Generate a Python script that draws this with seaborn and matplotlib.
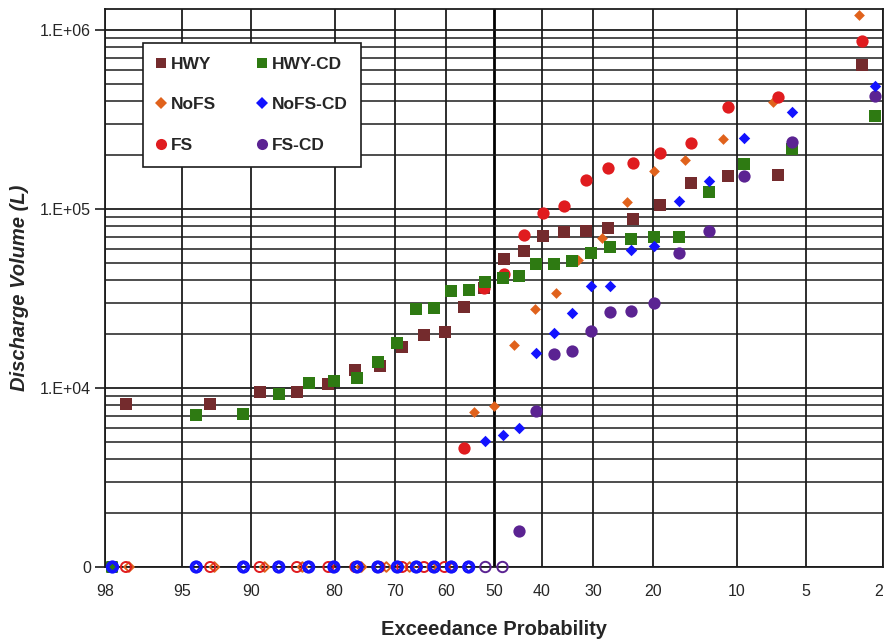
import math
import numpy as np
import matplotlib
matplotlib.use("Agg")
import matplotlib.pyplot as plt
import seaborn as sns
from matplotlib.lines import Line2D
from matplotlib.ticker import LogLocator, NullFormatter, NullLocator

# exceedance probability (%) of the ranked events
exc_24 = [97.4, 93.3, 89.2, 85.1, 80.9, 76.8, 72.7, 68.6, 64.4, 60.3, 56.2, 52.1,
          47.9, 43.8, 39.7, 35.6, 31.4, 27.3, 23.2, 19.1, 14.9, 10.8, 6.7, 2.6]
exc_23 = [97.3, 93.0, 88.7, 84.4, 80.1, 75.8, 71.5, 67.2, 62.9, 58.6, 54.3, 50.0,
          45.7, 41.4, 37.1, 32.8, 28.5, 24.2, 19.9, 15.6, 11.3, 7.0, 2.7]
exc_28 = [97.8, 94.2, 90.7, 87.2, 83.6, 80.1, 76.5, 73.0, 69.5, 65.9, 62.4, 58.9, 55.3, 51.8,
          48.2, 44.7, 41.2, 37.6, 34.1, 30.5, 27.0, 23.5, 19.9, 16.4, 12.8, 9.3, 5.8, 2.2]

# discharge volume (L) per event, 0 = no discharge
hwy = [8100, 8100, 9500, 9500, 10500, 12600, 13300, 16900, 19700, 20500, 28500, 36000,
       52700, 58400, 70800, 74500, 75500, 78400, 88000, 105000, 139000, 152000, 154000, 640000]
nofs = [0, 0, 0, 0, 0, 0, 0, 0, 0, 0, 7300, 7900, 17400, 27800, 34100, 51600, 69000,
        109000, 163000, 188000, 245000, 396000, 1210000]
fs = [0, 0, 0, 0, 0, 0, 0, 0, 0, 0, 4600, 36400, 43500, 71700, 94400, 104500, 146000,
      169000, 181000, 206000, 233000, 369000, 425000, 869000]
hwy_cd = [0, 7050, 7170, 9260, 10600, 10900, 11400, 13900, 17900, 27500, 28100, 34900, 35200,
          39000, 41400, 42000, 49100, 49100, 51000, 57000, 61400, 68100, 69600, 69600,
          125000, 179000, 217000, 330000]
nofs_cd = [0, 0, 0, 0, 0, 0, 0, 0, 0, 0, 0, 0, 0, 5060, 5430, 5990, 15600, 20400, 26200,
           37000, 37200, 58700, 62500, 111000, 143000, 250000, 349000, 489000]
fs_cd = [0, 0, 0, 0, 0, 0, 0, 0, 0, 0, 0, 0, 0, 0, 0, 1580, 7430, 15500, 16100, 20900,
         26500, 26800, 29900, 56700, 75200, 152000, 237000, 430000]

prob_ticks = [98, 95, 90, 80, 70, 60, 50, 40, 30, 20, 10, 5, 2]
vol_ticks = [1e3, 1e4, 1e5, 1e6]
vol_labels = ["0", "1.E+04", "1.E+05", "1.E+06"]
y_floor = 1e3  # zero volumes sit on the "0" line

# name, exceedance, volume, colour, marker, size, zero-row size, filled zero
series = [
    ("HWY", exc_24, hwy, "#742B2D", "s", 64, 40, True),
    ("NoFS", exc_23, nofs, "#E0621C", "D", 30, 24, False),
    ("FS", exc_24, fs, "#E01C1F", "o", 78, 52, False),
    ("HWY-CD", exc_28, hwy_cd, "#2E7A12", "s", 64, 60, True),
    ("FS-CD", exc_28, fs_cd, "#5B2392", "o", 78, 56, False),
    ("NoFS-CD", exc_28, nofs_cd, "#1212FF", "D", 34, 22, False),
]
legend_order = ["HWY", "NoFS", "FS", "HWY-CD", "NoFS-CD", "FS-CD"]


# inverse normal cdf (Acklam) for the probability axis
A = [-3.969683028665376e+01, 2.209460984245205e+02, -2.759285104469687e+02,
     1.383577518672690e+02, -3.066479806614716e+01, 2.506628277459239e+00]
B = [-5.447609879822406e+01, 1.615858368580409e+02, -1.556989798598866e+02,
     6.680131188771972e+01, -1.328068155288572e+01]
C = [-7.784894002430293e-03, -3.223964580411365e-01, -2.400758277161838e+00,
     -2.549732539343734e+00, 4.374664141464968e+00, 2.938163982698783e+00]
D = [7.784695709041462e-03, 3.224671290700398e-01, 2.445134137142996e+00,
     3.754408661907416e+00]


def _ppf(p):
    p = min(max(p, 1e-9), 1 - 1e-9)
    if p < 0.02425:
        q = math.sqrt(-2 * math.log(p))
        return (((((C[0]*q + C[1])*q + C[2])*q + C[3])*q + C[4])*q + C[5]) / \
               ((((D[0]*q + D[1])*q + D[2])*q + D[3])*q + 1)
    if p > 1 - 0.02425:
        q = math.sqrt(-2 * math.log(1 - p))
        return -(((((C[0]*q + C[1])*q + C[2])*q + C[3])*q + C[4])*q + C[5]) / \
                ((((D[0]*q + D[1])*q + D[2])*q + D[3])*q + 1)
    q = p - 0.5
    r = q * q
    return (((((A[0]*r + A[1])*r + A[2])*r + A[3])*r + A[4])*r + A[5])*q / \
           (((((B[0]*r + B[1])*r + B[2])*r + B[3])*r + B[4])*r + 1)


_ppf_v = np.vectorize(_ppf, otypes=[float])
_erfc_v = np.vectorize(math.erfc, otypes=[float])


def exc_to_z(p):
    return _ppf_v(np.asarray(p, dtype=float) / 100.0)


def z_to_exc(z):
    return 100.0 * 0.5 * _erfc_v(-np.asarray(z, dtype=float) / math.sqrt(2))


sns.set_style("white")
plt.rcParams["font.family"] = ["Liberation Sans", "DejaVu Sans"]

fig = plt.figure(figsize=(8.85, 6.43), dpi=100)
ax = fig.add_axes([0.1186, 0.1182, 0.8791, 0.8678])

handles = {}
for name, exc, vol, color, marker, size, zsize, zfill in series:
    exc = np.asarray(exc, dtype=float)
    vol = np.asarray(vol, dtype=float)
    wet = vol > 0
    sns.scatterplot(x=exc[wet], y=vol[wet], ax=ax, color=color, marker=marker,
                    s=size, linewidth=0, zorder=3)
    if (~wet).any():
        sns.scatterplot(x=exc[~wet], y=np.full((~wet).sum(), y_floor), ax=ax,
                        color=color, marker=marker, s=zsize, zorder=4, clip_on=False)
        coll = ax.collections[-1]
        coll.set_edgecolor(color)
        coll.set_linewidth(1.4)
        if not zfill:
            coll.set_facecolor("none")
        if name == "NoFS-CD":
            # dry events also ringed in blue
            sns.scatterplot(x=exc[~wet], y=np.full((~wet).sum(), y_floor), ax=ax,
                            color=color, marker="o", s=62, zorder=4, clip_on=False)
            ring = ax.collections[-1]
            ring.set_facecolor("none")
            ring.set_edgecolor(color)
            ring.set_linewidth(1.6)
    handles[name] = Line2D([], [], linestyle="none", marker=marker, color=color,
                           markersize={"s": 7, "o": 8, "D": 6}[marker],
                           markeredgewidth=0)

ax.set_xscale("function", functions=(exc_to_z, z_to_exc))
ax.set_yscale("log")
ax.set_xlim(98, 2)
ax.set_ylim(y_floor, 1.31e6)

ax.set_xticks(prob_ticks, [str(t) for t in prob_ticks])
ax.xaxis.set_minor_locator(NullLocator())
ax.get_xticklabels()[-1].set_horizontalalignment("right")
ax.set_yticks(vol_ticks, vol_labels)
ax.yaxis.set_minor_locator(LogLocator(base=10, subs=np.arange(2, 10)))
ax.yaxis.set_minor_formatter(NullFormatter())

ax.set_axisbelow(True)
ax.grid(which="major", axis="both", color="#1c1c1c", linewidth=1.3)
ax.grid(which="minor", axis="y", color="#1c1c1c", linewidth=1.1)
ax.xaxis.get_gridlines()[prob_ticks.index(50)].set_linewidth(2.0)
ax.xaxis.get_gridlines()[prob_ticks.index(50)].set_color("black")
for sp in ax.spines.values():
    sp.set_color("#1c1c1c")
    sp.set_linewidth(1.3)

ax.tick_params(axis="x", length=0, pad=12, labelsize=11.5)
ax.tick_params(axis="y", which="major", length=7, width=1.2, color="#1c1c1c",
               direction="out", left=True, pad=3, labelsize=11.5)
ax.tick_params(axis="y", which="minor", length=0)

ax.set_xlabel("Exceedance Probability", fontsize=14.5, fontweight="bold")
ax.set_ylabel("Discharge Volume (L)", fontsize=14.5, fontweight="bold", fontstyle="italic")
ax.xaxis.set_label_coords(0.5, -0.095)
ax.yaxis.set_label_coords(-0.098, 0.5)

leg = ax.legend([handles[n] for n in legend_order], legend_order, ncol=2,
                loc="upper left", bbox_to_anchor=(0.049, 0.939), borderaxespad=0,
                prop={"weight": "bold", "size": 12.5}, frameon=True, fancybox=False,
                framealpha=1, edgecolor="#1c1c1c", borderpad=0.8, labelspacing=1.45,
                handlelength=0.5, handletextpad=0.3, columnspacing=2.4)
leg.get_frame().set_linewidth(1.2)
leg.set_zorder(5)

fig.savefig("out.png", dpi=100)
